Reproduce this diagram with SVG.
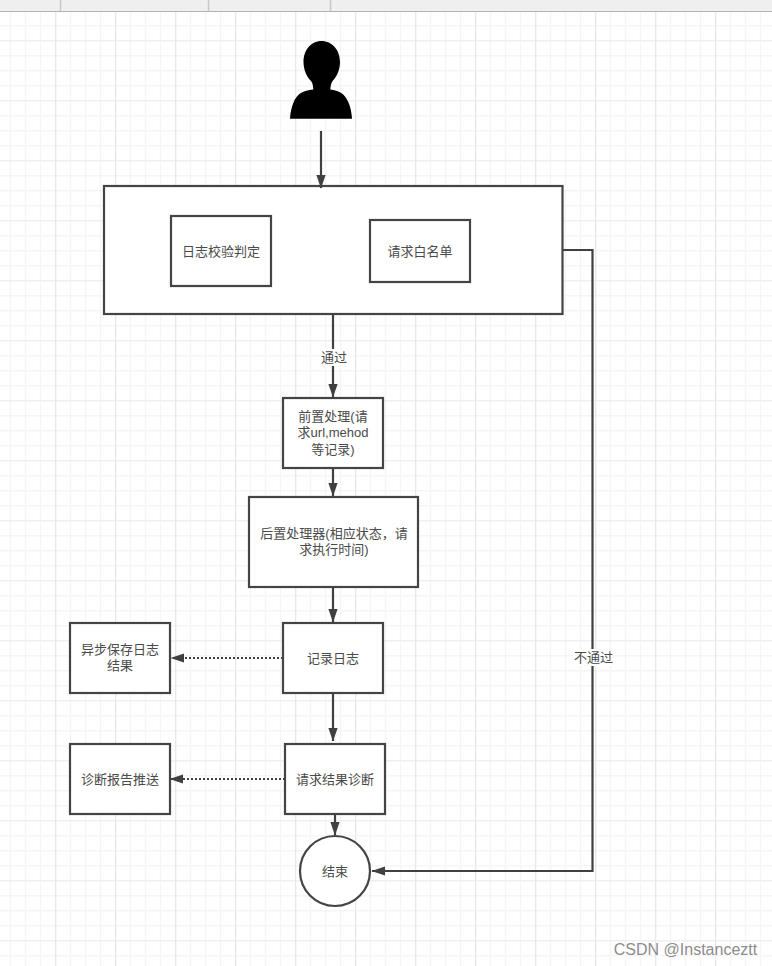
<svg xmlns="http://www.w3.org/2000/svg" width="772" height="966" viewBox="0 0 772 966">
  <style>
    text { font-family: "Liberation Sans", "Noto Sans CJK SC", sans-serif; font-size: 13px; fill: #4a4a4a; text-anchor: middle; }
    .box { fill: #fff; stroke: #444; stroke-width: 2.2; }
    .edge { fill: none; stroke: #404040; stroke-width: 2.2; }
    .dot { stroke-dasharray: 2 2; }
    .minor { stroke: #f5f5f5; stroke-width: 1.5; fill: none; }
    .major { stroke: #e6e6e6; stroke-width: 1.2; fill: none; }
    .hmajor { stroke: #efefef; stroke-width: 1.5; fill: none; }
  </style>
  <defs>
    <marker id="arrowV" markerUnits="userSpaceOnUse" markerWidth="14" markerHeight="14" refX="13" refY="5" orient="auto" viewBox="0 0 14 10">
      <path d="M0 0.4L13.5 5L0 9.6Z" fill="#404040"/>
    </marker>
  </defs>
  <rect width="772" height="966" fill="#fff"/>
  <g id="grid">
    <path class="minor" d="M10.5 12V966M25.5 12V966M40.5 12V966M70.5 12V966M85.5 12V966M100.5 12V966M130.5 12V966M145.5 12V966M160.5 12V966M190.5 12V966M205.5 12V966M220.5 12V966M250.5 12V966M265.5 12V966M280.5 12V966M310.5 12V966M325.5 12V966M340.5 12V966M370.5 12V966M385.5 12V966M400.5 12V966M430.5 12V966M445.5 12V966M460.5 12V966M490.5 12V966M505.5 12V966M520.5 12V966M550.5 12V966M565.5 12V966M580.5 12V966M610.5 12V966M625.5 12V966M640.5 12V966M670.5 12V966M685.5 12V966M700.5 12V966M730.5 12V966M745.5 12V966M760.5 12V966"/>
    <path class="minor" d="M0 25.7H772M0 55.7H772M0 70.7H772M0 85.7H772M0 115.7H772M0 130.7H772M0 145.7H772M0 175.7H772M0 190.7H772M0 205.7H772M0 235.7H772M0 250.7H772M0 265.7H772M0 295.7H772M0 310.7H772M0 325.7H772M0 355.7H772M0 370.7H772M0 385.7H772M0 415.7H772M0 430.7H772M0 445.7H772M0 475.7H772M0 490.7H772M0 505.7H772M0 535.7H772M0 550.7H772M0 565.7H772M0 595.7H772M0 610.7H772M0 625.7H772M0 655.7H772M0 670.7H772M0 685.7H772M0 715.7H772M0 730.7H772M0 745.7H772M0 775.7H772M0 790.7H772M0 805.7H772M0 835.7H772M0 850.7H772M0 865.7H772M0 895.7H772M0 910.7H772M0 925.7H772M0 955.7H772"/>
    <path class="hmajor" d="M0 40.7H772M0 100.7H772M0 160.7H772M0 220.7H772M0 280.7H772M0 340.7H772M0 400.7H772M0 460.7H772M0 520.7H772M0 580.7H772M0 640.7H772M0 700.7H772M0 760.7H772M0 820.7H772M0 880.7H772M0 940.7H772"/>
    <path class="major" d="M55.7 12V966M115.7 12V966M175.7 12V966M235.7 12V966M295.7 12V966M355.7 12V966M415.7 12V966M475.7 12V966M535.7 12V966M595.7 12V966M655.7 12V966M715.7 12V966"/>
  </g>
  <g id="toolbar">
    <rect width="772" height="11" fill="#efefef"/>
    <path d="M0 11.5H772" stroke="#b4b4b4" stroke-width="1"/>
    <path d="M60.5 0V11M208.5 0V11M330.5 0V11" stroke="#c8c8c8" stroke-width="1.5"/>
  </g>
  <g id="person">
    <path fill="#000" d="M321.5 41C311 41 303.5 50 303.5 62C303.5 70 307 77 310.500 80.500C312.500 82.500 313 85 313.300 89.500C303 90.300 297 94 293.500 102.500C291.500 107 290.300 113 290 118.700H352C351.700 113 350.500 107 348.500 102.500C345 94 339 90.300 330.300 89.500C330.500 85 331.500 82.500 333 80.500C336.500 77 340 70 340 62C340 50 332 41 321.500 41Z"/>
  </g>
  <g id="check-group">
    <rect class="box" x="104" y="186" width="458.500" height="128"/>
  </g>
  <g id="log-check">
    <rect class="box" x="171" y="216" width="100" height="70"/>
    <text x="221" y="255.500">日志校验判定</text>
  </g>
  <g id="whitelist">
    <rect class="box" x="370" y="220" width="100" height="62"/>
    <text x="420" y="255.500">请求白名单</text>
  </g>
  <g id="pre-process">
    <rect class="box" x="283" y="398" width="100" height="70"/>
    <text x="333" y="420.500">前置处理(请</text>
    <text x="333" y="437">求url,mehod</text>
    <text x="333" y="454">等记录)</text>
  </g>
  <g id="post-process">
    <rect class="box" x="249" y="497" width="169" height="90"/>
    <text x="334" y="537.500">后置处理器(相应状态，请</text>
    <text x="334" y="553.500">求执行时间)</text>
  </g>
  <g id="write-log">
    <rect class="box" x="283" y="623" width="100" height="70"/>
    <text x="333" y="662.500">记录日志</text>
  </g>
  <g id="async-save">
    <rect class="box" x="70" y="623" width="100" height="70"/>
    <text x="120" y="653.500">异步保存日志</text>
    <text x="120" y="669.500">结果</text>
  </g>
  <g id="diagnose">
    <rect class="box" x="285" y="744" width="100" height="70"/>
    <text x="335" y="783.500">请求结果诊断</text>
  </g>
  <g id="report-push">
    <rect class="box" x="70" y="744" width="100" height="70"/>
    <text x="120" y="783.500">诊断报告推送</text>
  </g>
  <g id="end">
    <circle class="box" cx="335" cy="871" r="35"/>
    <text x="335" y="875.500">结束</text>
  </g>
  <g id="connectors">
    <path class="edge" d="M321 131V188" marker-end="url(#arrowV)"/>
    <path class="edge" d="M333 314V397" marker-end="url(#arrowV)"/>
    <path class="edge" d="M333 468V496" marker-end="url(#arrowV)"/>
    <path class="edge" d="M333 587V622" marker-end="url(#arrowV)"/>
    <path class="edge" d="M333 693V741" marker-end="url(#arrowV)"/>
    <path class="edge" d="M335 814V835" marker-end="url(#arrowV)"/>
    <path class="edge dot" d="M283 658H171" marker-end="url(#arrowV)"/>
    <path class="edge dot" d="M285 779H170" marker-end="url(#arrowV)"/>
    <path class="edge" d="M562 250H592.500V871H372" marker-end="url(#arrowV)"/>
    <rect x="320" y="349" width="28" height="17" fill="#fff"/>
    <text x="334" y="362">通过</text>
    <rect x="573" y="649" width="40" height="17" fill="#fff"/>
    <text x="593.500" y="662">不通过</text>
  </g>
  <text x="685.500" y="955" style="font-size:16px;fill:#8c8c8c">CSDN @Instanceztt</text>
</svg>
